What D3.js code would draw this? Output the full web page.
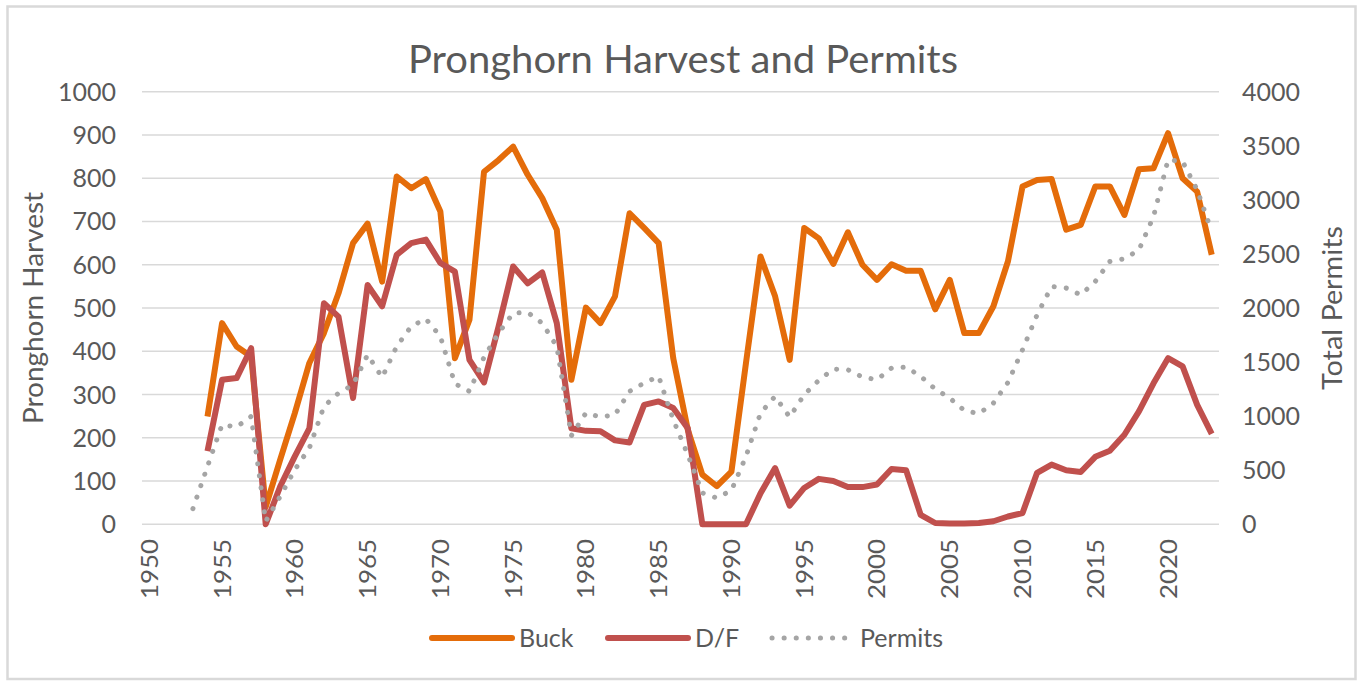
<!DOCTYPE html>
<html>
<head>
<meta charset="utf-8">
<script src="https://cdn.jsdelivr.net/npm/d3@7"></script>
<style>
    html, body { margin: 0; padding: 0; background: #fff; }
    text { font-family: Lato, "Open Sans", sans-serif; fill: #595959; }
</style>
</head>
<body>
<div id="chart"></div>
<script>
// categories
var years = [1950, 1951, 1952, 1953, 1954, 1955, 1956, 1957, 1958, 1959,
    1960, 1961, 1962, 1963, 1964, 1965, 1966, 1967, 1968, 1969,
    1970, 1971, 1972, 1973, 1974, 1975, 1976, 1977, 1978, 1979,
    1980, 1981, 1982, 1983, 1984, 1985, 1986, 1987, 1988, 1989,
    1990, 1991, 1992, 1993, 1994, 1995, 1996, 1997, 1998, 1999,
    2000, 2001, 2002, 2003, 2004, 2005, 2006, 2007, 2008, 2009,
    2010, 2011, 2012, 2013, 2014, 2015, 2016, 2017, 2018, 2019,
    2020, 2021, 2022, 2023];

// harvest (left axis)
var buck = [null, null, null, null, 249, 465, 411, 388, 40, 150,
    257, 373, 442, 534, 650, 695, 561, 804, 777, 798,
    723, 384, 473, 815, 842, 873, 808, 754, 681, 334,
    501, 465, 527, 719, 685, 650, 384, 219, 115, 88,
    122, 373, 619, 527, 380, 685, 661, 602, 675, 600,
    565, 601, 586, 586, 497, 565, 442, 442, 504, 608,
    781, 796, 798, 681, 692, 781, 781, 715, 821, 823,
    904, 800, 769, 623];

var doeFawn = [null, null, null, null, 169, 334, 338, 407, 0, 88,
    157, 222, 511, 480, 292, 553, 504, 623, 650, 658,
    604, 584, 380, 328, 457, 596, 557, 582, 465, 222,
    216, 215, 194, 189, 276, 284, 269, 222, 0, 0,
    0, 0, 72, 130, 43, 84, 105, 100, 86, 86,
    92, 128, 125, 22, 3, 2, 2, 3, 7, 18,
    26, 119, 138, 125, 121, 156, 170, 207, 261, 326,
    384, 365, 276, 209];

// permits (right axis)
var permits = [null, null, null, 145, 536, 921, 900, 998, 28, 259,
    505, 705, 1090, 1213, 1290, 1568, 1358, 1645, 1830, 1900,
    1737, 1300, 1229, 1545, 1768, 1953, 1959, 1860, 1645, 819,
    1029, 992, 1013, 1229, 1306, 1368, 967, 644, 290, 243,
    314, 628, 1029, 1183, 992, 1198, 1331, 1436, 1429, 1361,
    1337, 1445, 1454, 1368, 1251, 1167, 1053, 1023, 1121, 1312,
    1614, 1937, 2199, 2184, 2122, 2245, 2430, 2455, 2538, 2846,
    3370, 3354, 3092, 2707];

var leftTicks = [0, 100, 200, 300, 400, 500, 600, 700, 800, 900, 1000];
var rightTicks = [0, 500, 1000, 1500, 2000, 2500, 3000, 3500, 4000];
var yearLabels = [1950, 1955, 1960, 1965, 1970, 1975, 1980, 1985, 1990, 1995, 2000, 2005, 2010, 2015, 2020];

var width = 1359, height = 681;
var plot = {left: 142, right: 1219, top: 91.7, bottom: 524.3};

var svg = d3.select("#chart").append("svg")
    .attr("width", width)
    .attr("height", height);

// chart border
svg.append("rect")
    .attr("x", 7.5).attr("y", 6.5)
    .attr("width", 1348).attr("height", 672.5)
    .attr("fill", "#fff")
    .attr("stroke", "#d9d9d9")
    .attr("stroke-width", 2.5);

var x = d3.scaleBand().domain(years).range([plot.left, plot.right]);
var xc = function (yr) { return x(yr) + x.bandwidth() / 2; };
var yLeft = d3.scaleLinear().domain([0, 1000]).range([plot.bottom, plot.top]);
var yRight = d3.scaleLinear().domain([0, 4000]).range([plot.bottom, plot.top]);

// gridlines
svg.append("g").selectAll("line")
    .data(leftTicks)
    .enter().append("line")
    .attr("x1", plot.left).attr("x2", plot.right)
    .attr("y1", function (d) { return yLeft(d); })
    .attr("y2", function (d) { return yLeft(d); })
    .attr("stroke", "#d9d9d9")
    .attr("stroke-width", 1.5);

// left tick labels
svg.append("g").selectAll("text")
    .data(leftTicks)
    .enter().append("text")
    .attr("x", 116)
    .attr("y", function (d) { return yLeft(d) + 9; })
    .attr("font-size", "25px")
    .style("text-anchor", "end")
    .text(function (d) { return d; });

// right tick labels
svg.append("g").selectAll("text")
    .data(rightTicks)
    .enter().append("text")
    .attr("x", 1242)
    .attr("y", function (d) { return yRight(d) + 9; })
    .attr("font-size", "25px")
    .style("text-anchor", "start")
    .text(function (d) { return d; });

// year labels, rotated
svg.append("g").selectAll("text")
    .data(yearLabels)
    .enter().append("text")
    .attr("transform", function (d) { return "translate(" + (xc(d) + 8.5) + ",539) rotate(-90)"; })
    .attr("font-size", "23.7px")
    .attr("textLength", 60)
    .attr("lengthAdjust", "spacingAndGlyphs")
    .style("text-anchor", "end")
    .text(function (d) { return d; });

// title
svg.append("text")
    .attr("x", 683).attr("y", 72.7)
    .attr("font-size", "38.5px")
    .attr("textLength", 550)
    .attr("lengthAdjust", "spacingAndGlyphs")
    .style("text-anchor", "middle")
    .text("Pronghorn Harvest and Permits");

// axis titles
svg.append("text")
    .attr("transform", "translate(43,308) rotate(-90)")
    .attr("font-size", "26px")
    .attr("textLength", 232)
    .attr("lengthAdjust", "spacingAndGlyphs")
    .style("text-anchor", "middle")
    .text("Pronghorn Harvest");
svg.append("text")
    .attr("transform", "translate(1342,308) rotate(-90)")
    .attr("font-size", "26px")
    .attr("textLength", 164)
    .attr("lengthAdjust", "spacingAndGlyphs")
    .style("text-anchor", "middle")
    .text("Total Permits");

// series
var series = [
    {name: "Buck", values: buck, scale: yLeft, color: "#e46c0a", dash: null},
    {name: "D/F", values: doeFawn, scale: yLeft, color: "#c0504d", dash: null},
    {name: "Permits", values: permits, scale: yRight, color: "#a5a5a5", dash: "0.1 12"}
];

series.forEach(function (s) {
    var line = d3.line()
        .defined(function (d) { return d != null; })
        .x(function (d, i) { return xc(years[i]); })
        .y(function (d) { return s.scale(d); });
    svg.append("path")
        .datum(s.values)
        .attr("fill", "none")
        .attr("stroke", s.color)
        .attr("stroke-width", s.dash ? 5 : 6)
        .attr("stroke-linejoin", "round")
        .attr("stroke-linecap", s.dash ? "round" : "butt")
        .attr("stroke-dasharray", s.dash)
        .attr("d", line);
});

// legend
var legendPos = [430, 606, 770];
var legend = svg.append("g").selectAll("g")
    .data(series)
    .enter().append("g")
    .attr("transform", function (d, i) { return "translate(" + legendPos[i] + ",638)"; });
legend.append("line")
    .attr("x1", 2).attr("x2", function (d) { return d.dash ? 80 : 82; })
    .attr("y1", 0).attr("y2", 0)
    .attr("stroke", function (d) { return d.color; })
    .attr("stroke-width", function (d) { return d.dash ? 5 : 6; })
    .attr("stroke-linecap", "round")
    .attr("stroke-dasharray", function (d) { return d.dash; });
legend.append("text")
    .attr("x", function (d) { return d.dash ? 90 : 89; })
    .attr("y", 9)
    .attr("font-size", "25px")
    .text(function (d) { return d.name; });
</script>
</body>
</html>
